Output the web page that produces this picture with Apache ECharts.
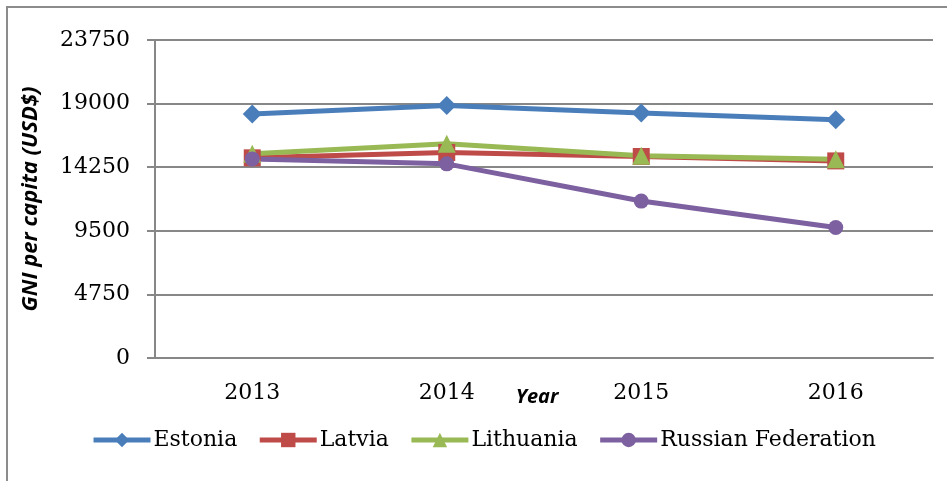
<!DOCTYPE html>
<html>
<head>
<meta charset="utf-8">
<script src="https://cdn.jsdelivr.net/npm/echarts@6/dist/echarts.min.js"></script>
<style>
  html, body { margin: 0; padding: 0; background: #fff; }
  #chart { width: 947px; height: 481px; }
</style>
</head>
<body>
<div id="chart"></div>
<script>
// values
var years = ['2013', '2014', '2015', '2016'];
var estonia = [18230, 18850, 18300, 17800];
var latvia = [14950, 15350, 15050, 14720];
var lithuania = [15250, 16000, 15100, 14850];
var russia = [14870, 14500, 11720, 9750];

var serif = '"DejaVu Serif", serif';
var gridColor = '#878787';

function line(name, data, color, symbol, size) {
    return {
        name: name,
        type: 'line',
        data: data,
        symbol: symbol,
        symbolSize: size,
        lineStyle: {width: 5, color: color},
        itemStyle: {color: color},
        emphasis: {disabled: true}
    };
}

var myChart = echarts.init(document.getElementById('chart'));
myChart.setOption({
    animation: false,
    graphic: [{
        type: 'rect',
        shape: {x: 7, y: 7, width: 1000, height: 600},
        style: {fill: 'none', stroke: '#8c8c8c', lineWidth: 2},
        silent: true
    }],
    grid: {left: 155, right: 14, top: 40, bottom: 123},
    legend: {
        left: 86,
        top: 424,
        itemWidth: 57,
        itemHeight: 18,
        itemGap: 20,
        lineStyle: {width: 5},
        textStyle: {fontFamily: serif, fontSize: 22, color: '#000', padding: [0, 0, 0, -2]},
        data: ['Estonia', 'Latvia', 'Lithuania', 'Russian Federation']
    },
    xAxis: {
        type: 'category',
        data: years,
        name: 'Year',
        nameLocation: 'middle',
        nameGap: 29,
        nameMoveOverlap: false,
        nameTextStyle: {
            fontFamily: '"Open Sans", sans-serif', fontWeight: 'bold',
            fontStyle: 'italic', fontSize: 20, color: '#000',
            padding: [0, 14, 0, 0]
        },
        axisLine: {lineStyle: {color: gridColor, width: 2}},
        axisTick: {alignWithLabel: false, length: 8, lineStyle: {color: gridColor, width: 2}},
        axisLabel: {margin: 24, fontFamily: serif, fontSize: 22, color: '#000'}
    },
    yAxis: {
        type: 'value',
        min: 0,
        max: 23750,
        interval: 4750,
        name: 'GNI per capita (USD$)',
        nameLocation: 'middle',
        nameGap: 113,
        nameMoveOverlap: false,
        nameTextStyle: {
            fontFamily: '"Open Sans", sans-serif', fontWeight: 'bold',
            fontStyle: 'italic', fontSize: 22, color: '#000'
        },
        axisLine: {show: true, lineStyle: {color: gridColor, width: 2}},
        axisTick: {show: true, length: 8, lineStyle: {color: gridColor, width: 2}},
        axisLabel: {
            margin: 25, fontFamily: serif, fontSize: 22, color: '#000',
            formatter: function (v) { return String(v); }
        },
        splitLine: {lineStyle: {color: gridColor, width: 2}}
    },
    series: [
        line('Estonia', estonia, '#4a7ebb', 'diamond', 19),
        line('Latvia', latvia, '#be4b48', 'rect', 17),
        line('Lithuania', lithuania, '#98b954', 'triangle', 18),
        line('Russian Federation', russia, '#7d60a0', 'circle', 15)
    ]
});
</script>
</body>
</html>
